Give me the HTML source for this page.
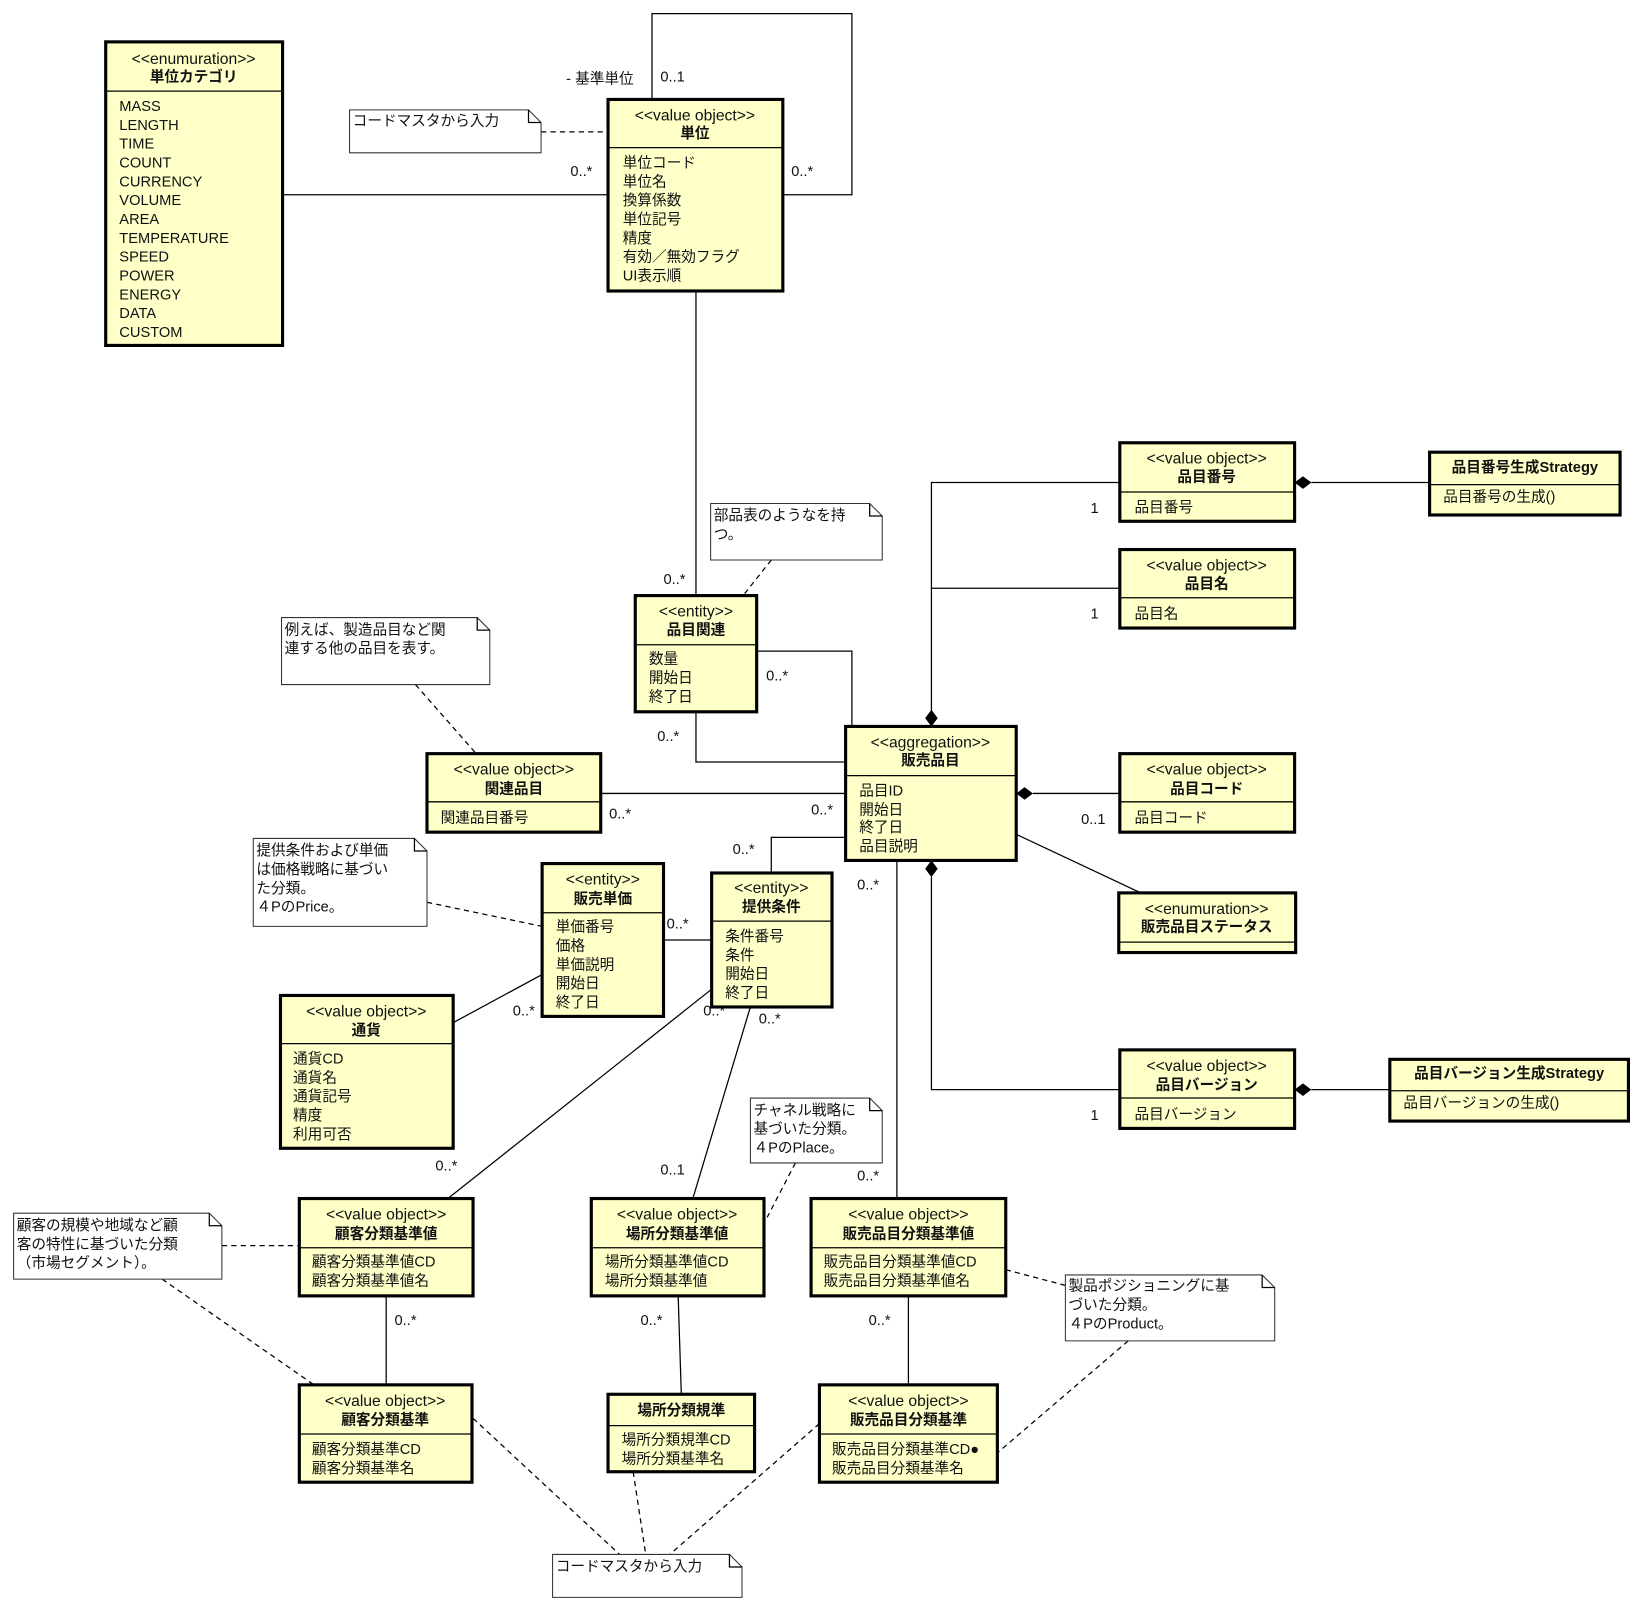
<!DOCTYPE html>
<html><head><meta charset="utf-8"><style>
html,body{margin:0;padding:0;background:#fff}
svg{display:block}
text{font-family:"Liberation Sans","Noto Sans CJK JP",sans-serif;font-size:14px;fill:#111}
.b{font-weight:bold}
.c{text-anchor:middle}
.st{font-size:15px}
.box{fill:#ffffc8;stroke:#000;stroke-width:3}
.dv{stroke:#000;stroke-width:1.2}
.ln{stroke:#000;stroke-width:1.2;fill:none}
.ds{stroke:#000;stroke-width:1.2;fill:none;stroke-dasharray:5,4}
.nt{fill:#fff;stroke:#333;stroke-width:1}
</style></head><body>
<svg width="1641" height="1612" viewBox="0 0 1568 1540" preserveAspectRatio="none" xmlns="http://www.w3.org/2000/svg">
<path class="ln" d="M270,186H581"/>
<path class="ln" d="M623,95V13H814V186H748"/>
<path class="ds" d="M517,126H581"/>
<path class="ln" d="M665,278V569"/>
<path class="ds" d="M737,535L710,569"/>
<path class="ln" d="M723,622H814V694"/>
<path class="ln" d="M665,680V728H808"/>
<path class="ds" d="M397,654L455,720"/>
<path class="ln" d="M574,758H808"/>
<path class="ln" d="M808,800H737V834"/>
<path class="ln" d="M857,822V1145"/>
<path class="ln" d="M890,680V461H1070M890,562H1070"/>
<path d="M890,678L896,686L890,694L884,686Z" fill="#000"/>
<path class="ln" d="M987,758H1070"/>
<path d="M971,758L979,752L987,758L979,764Z" fill="#000"/>
<path class="ln" d="M971,797L1090,853"/>
<path class="ln" d="M890,838V1041H1070"/>
<path d="M890,822L896,830L890,838L884,830Z" fill="#000"/>
<path class="ln" d="M1253,461H1366"/>
<path d="M1237,461L1245,455L1253,461L1245,467Z" fill="#000"/>
<path class="ln" d="M1253,1041H1328"/>
<path d="M1237,1041L1245,1035L1253,1041L1245,1047Z" fill="#000"/>
<path class="ln" d="M634,898H680"/>
<path class="ln" d="M433,977L518,931"/>
<path class="ds" d="M408,862L518,885"/>
<path class="ln" d="M680,945L428,1145"/>
<path class="ln" d="M717,962L662,1145"/>
<path class="ds" d="M760,1111L733,1163"/>
<path class="ds" d="M212,1190H286"/>
<path class="ds" d="M155,1222L300,1323"/>
<path class="ln" d="M369,1238V1323"/>
<path class="ln" d="M648,1238L651,1332"/>
<path class="ln" d="M868,1238V1323"/>
<path class="ds" d="M961,1213L1018,1228"/>
<path class="ds" d="M1078,1281L953,1388"/>
<path class="ds" d="M452,1355L592,1485"/>
<path class="ds" d="M605,1406L617,1485"/>
<path class="ds" d="M783,1360L640,1485"/>

<text x="545" y="168">0..*</text>
<text x="541" y="80">- 基準単位</text>
<text x="631" y="78">0..1</text>
<text x="756" y="168">0..*</text>
<text x="634" y="558">0..*</text>
<text x="732" y="650">0..*</text>
<text x="628" y="708">0..*</text>
<text x="582" y="782">0..*</text>
<text x="775" y="778">0..*</text>
<text x="700" y="816">0..*</text>
<text x="819" y="850">0..*</text>
<text x="819" y="1128">0..*</text>
<text x="1042" y="490">1</text>
<text x="1042" y="591">1</text>
<text x="1033" y="787">0..1</text>
<text x="1042" y="1070">1</text>
<text x="637" y="887">0..*</text>
<text x="490" y="970">0..*</text>
<text x="672" y="970">0..*</text>
<text x="725" y="978">0..*</text>
<text x="416" y="1118">0..*</text>
<text x="631" y="1122">0..1</text>
<text x="377" y="1266">0..*</text>
<text x="612" y="1266">0..*</text>
<text x="830" y="1266">0..*</text>

<g>
<path class="nt" d="M334,105H505L517,117V146H334Z"/><path class="ln" d="M505,105V117H517" stroke-width="1"/>
<text x="337" y="120">コードマスタから入力</text>
<path class="nt" d="M679,481H831L843,493V535H679Z"/><path class="ln" d="M831,481V493H843" stroke-width="1"/>
<text x="682" y="497">部品表のようなを持</text><text x="682" y="515">つ。</text>
<path class="nt" d="M269,590H456L468,602V654H269Z"/><path class="ln" d="M456,590V602H468" stroke-width="1"/>
<text x="272" y="606">例えば、製造品目など関</text><text x="272" y="624">連する他の品目を表す。</text>
<path class="nt" d="M242,801H396L408,813V885H242Z"/><path class="ln" d="M396,801V813H408" stroke-width="1"/>
<text x="245" y="817">提供条件および単価</text><text x="245" y="835">は価格戦略に基づい</text><text x="245" y="853">た分類。</text><text x="245" y="871">４PのPrice。</text>
<path class="nt" d="M717,1049H831L843,1061V1111H717Z"/><path class="ln" d="M831,1049V1061H843" stroke-width="1"/>
<text x="720" y="1065">チャネル戦略に</text><text x="720" y="1083">基づいた分類。</text><text x="720" y="1101">４PのPlace。</text>
<path class="nt" d="M13,1159H200L212,1171V1222H13Z"/><path class="ln" d="M200,1159V1171H212" stroke-width="1"/>
<text x="16" y="1175">顧客の規模や地域など顧</text><text x="16" y="1193">客の特性に基づいた分類</text><text x="16" y="1211">（市場セグメント）。</text>
<path class="nt" d="M1018,1218H1206L1218,1230V1281H1018Z"/><path class="ln" d="M1206,1218V1230H1218" stroke-width="1"/>
<text x="1021" y="1233">製品ポジショニングに基</text><text x="1021" y="1251">づいた分類。</text><text x="1021" y="1269">４PのProduct。</text>
<path class="nt" d="M528,1485H697L709,1497V1526H528Z"/><path class="ln" d="M697,1485V1497H709" stroke-width="1"/>
<text x="531" y="1501">コードマスタから入力</text>
</g>

<rect class="box" x="101" y="40" width="169" height="290"/><line class="dv" x1="101" y1="87" x2="270" y2="87"/>
<text class="c st" x="185" y="61">&lt;&lt;enumuration&gt;&gt;</text><text class="c b" x="185" y="78">単位カテゴリ</text>
<text x="114" y="106">MASS</text><text x="114" y="124">LENGTH</text><text x="114" y="142">TIME</text><text x="114" y="160">COUNT</text><text x="114" y="178">CURRENCY</text><text x="114" y="196">VOLUME</text><text x="114" y="214">AREA</text><text x="114" y="232">TEMPERATURE</text><text x="114" y="250">SPEED</text><text x="114" y="268">POWER</text><text x="114" y="286">ENERGY</text><text x="114" y="304">DATA</text><text x="114" y="322">CUSTOM</text>

<rect class="box" x="581" y="95" width="167" height="183"/><line class="dv" x1="581" y1="141" x2="748" y2="141"/>
<text class="c st" x="664" y="115">&lt;&lt;value object&gt;&gt;</text><text class="c b" x="664" y="132">単位</text>
<text x="595" y="160">単位コード</text><text x="595" y="178">単位名</text><text x="595" y="196">換算係数</text><text x="595" y="214">単位記号</text><text x="595" y="232">精度</text><text x="595" y="250">有効／無効フラグ</text><text x="595" y="268">UI表示順</text>

<rect class="box" x="1070" y="423" width="167" height="75"/><line class="dv" x1="1070" y1="470" x2="1237" y2="470"/>
<text class="c st" x="1153" y="443">&lt;&lt;value object&gt;&gt;</text><text class="c b" x="1153" y="460">品目番号</text><text x="1084" y="489">品目番号</text>

<rect class="box" x="1366" y="432" width="182" height="60"/><line class="dv" x1="1366" y1="463" x2="1548" y2="463"/>
<text class="c b" x="1457" y="451">品目番号生成Strategy</text><text x="1379" y="479">品目番号の生成()</text>

<rect class="box" x="1070" y="525" width="167" height="75"/><line class="dv" x1="1070" y1="571" x2="1237" y2="571"/>
<text class="c st" x="1153" y="545">&lt;&lt;value object&gt;&gt;</text><text class="c b" x="1153" y="562">品目名</text><text x="1084" y="591">品目名</text>

<rect class="box" x="607" y="569" width="116" height="111"/><line class="dv" x1="607" y1="616" x2="723" y2="616"/>
<text class="c st" x="665" y="589">&lt;&lt;entity&gt;&gt;</text><text class="c b" x="665" y="606">品目関連</text>
<text x="620" y="634">数量</text><text x="620" y="652">開始日</text><text x="620" y="670">終了日</text>

<rect class="box" x="808" y="694" width="163" height="128"/><line class="dv" x1="808" y1="741" x2="971" y2="741"/>
<text class="c st" x="889" y="714">&lt;&lt;aggregation&gt;&gt;</text><text class="c b" x="889" y="731">販売品目</text>
<text x="821" y="760">品目ID</text><text x="821" y="778">開始日</text><text x="821" y="795">終了日</text><text x="821" y="813">品目説明</text>

<rect class="box" x="408" y="720" width="166" height="75"/><line class="dv" x1="408" y1="766" x2="574" y2="766"/>
<text class="c st" x="491" y="740">&lt;&lt;value object&gt;&gt;</text><text class="c b" x="491" y="758">関連品目</text><text x="421" y="786">関連品目番号</text>

<rect class="box" x="1070" y="720" width="167" height="75"/><line class="dv" x1="1070" y1="766" x2="1237" y2="766"/>
<text class="c st" x="1153" y="740">&lt;&lt;value object&gt;&gt;</text><text class="c b" x="1153" y="758">品目コード</text><text x="1084" y="786">品目コード</text>

<rect class="box" x="1069" y="853" width="169" height="57"/><line class="dv" x1="1069" y1="900" x2="1238" y2="900"/>
<text class="c st" x="1153" y="873">&lt;&lt;enumuration&gt;&gt;</text><text class="c b" x="1153" y="890">販売品目ステータス</text>

<rect class="box" x="518" y="825" width="116" height="146"/><line class="dv" x1="518" y1="872" x2="634" y2="872"/>
<text class="c st" x="576" y="845">&lt;&lt;entity&gt;&gt;</text><text class="c b" x="576" y="863">販売単価</text>
<text x="531" y="890">単価番号</text><text x="531" y="908">価格</text><text x="531" y="926">単価説明</text><text x="531" y="944">開始日</text><text x="531" y="962">終了日</text>

<rect class="box" x="680" y="834" width="115" height="128"/><line class="dv" x1="680" y1="880" x2="795" y2="880"/>
<text class="c st" x="737" y="853">&lt;&lt;entity&gt;&gt;</text><text class="c b" x="737" y="871">提供条件</text>
<text x="693" y="899">条件番号</text><text x="693" y="917">条件</text><text x="693" y="935">開始日</text><text x="693" y="953">終了日</text>

<rect class="box" x="268" y="951" width="165" height="146"/><line class="dv" x1="268" y1="997" x2="433" y2="997"/>
<text class="c st" x="350" y="971">&lt;&lt;value object&gt;&gt;</text><text class="c b" x="350" y="989">通貨</text>
<text x="280" y="1016">通貨CD</text><text x="280" y="1034">通貨名</text><text x="280" y="1052">通貨記号</text><text x="280" y="1070">精度</text><text x="280" y="1088">利用可否</text>

<rect class="box" x="1070" y="1003" width="167" height="75"/><line class="dv" x1="1070" y1="1049" x2="1237" y2="1049"/>
<text class="c st" x="1153" y="1023">&lt;&lt;value object&gt;&gt;</text><text class="c b" x="1153" y="1041">品目バージョン</text><text x="1084" y="1069">品目バージョン</text>

<rect class="box" x="1328" y="1012" width="228" height="59"/><line class="dv" x1="1328" y1="1042" x2="1556" y2="1042"/>
<text class="c b" x="1442" y="1030">品目バージョン生成Strategy</text><text x="1341" y="1058">品目バージョンの生成()</text>

<rect class="box" x="286" y="1145" width="166" height="93"/><line class="dv" x1="286" y1="1192" x2="452" y2="1192"/>
<text class="c st" x="369" y="1165">&lt;&lt;value object&gt;&gt;</text><text class="c b" x="369" y="1183">顧客分類基準値</text>
<text x="298" y="1210">顧客分類基準値CD</text><text x="298" y="1228">顧客分類基準値名</text>

<rect class="box" x="565" y="1145" width="165" height="93"/><line class="dv" x1="565" y1="1192" x2="730" y2="1192"/>
<text class="c st" x="647" y="1165">&lt;&lt;value object&gt;&gt;</text><text class="c b" x="647" y="1183">場所分類基準値</text>
<text x="578" y="1210">場所分類基準値CD</text><text x="578" y="1228">場所分類基準値</text>

<rect class="box" x="775" y="1145" width="186" height="93"/><line class="dv" x1="775" y1="1192" x2="961" y2="1192"/>
<text class="c st" x="868" y="1165">&lt;&lt;value object&gt;&gt;</text><text class="c b" x="868" y="1183">販売品目分類基準値</text>
<text x="787" y="1210">販売品目分類基準値CD</text><text x="787" y="1228">販売品目分類基準値名</text>

<rect class="box" x="286" y="1323" width="165" height="93"/><line class="dv" x1="286" y1="1370" x2="451" y2="1370"/>
<text class="c st" x="368" y="1343">&lt;&lt;value object&gt;&gt;</text><text class="c b" x="368" y="1361">顧客分類基準</text>
<text x="298" y="1389">顧客分類基準CD</text><text x="298" y="1407">顧客分類基準名</text>

<rect class="box" x="581" y="1332" width="140" height="74"/><line class="dv" x1="581" y1="1362" x2="721" y2="1362"/>
<text class="c b" x="651" y="1352">場所分類規準</text>
<text x="594" y="1380">場所分類規準CD</text><text x="594" y="1398">場所分類基準名</text>

<rect class="box" x="783" y="1323" width="170" height="93"/><line class="dv" x1="783" y1="1370" x2="953" y2="1370"/>
<text class="c st" x="868" y="1343">&lt;&lt;value object&gt;&gt;</text><text class="c b" x="868" y="1361">販売品目分類基準</text>
<text x="795" y="1389">販売品目分類基準CD●</text><text x="795" y="1407">販売品目分類基準名</text>
</svg>
</body></html>
